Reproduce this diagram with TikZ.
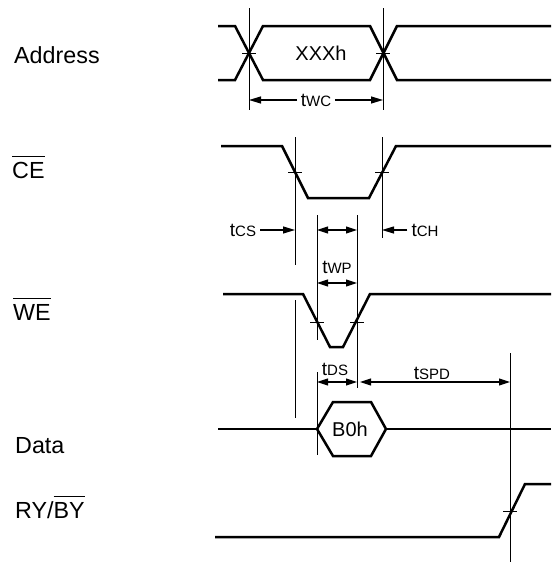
\documentclass[tikz,border=0pt]{standalone}
\usepackage{fontspec}
\setmainfont{Liberation Sans}
\usetikzlibrary{arrows.meta}
\newcommand\tlab[1]{\fontsize{19}{22}\selectfont t\fontsize{15}{18}\selectfont #1}
\newcommand\ovl[1]{\leavevmode\vbox{\hrule height 1pt\kern 5pt\hbox{#1}}}
\begin{document}
\begin{tikzpicture}[x=1pt,y=-1pt,
  sig/.style={line width=2.5pt, line join=miter},
  thinln/.style={line width=1pt},
  dim/.style={line width=1.1pt, -{Triangle[length=12pt,width=7pt]}},
  ddim/.style={line width=1.1pt, {Triangle[length=11pt,width=7pt]}-{Triangle[length=11pt,width=7pt]}},
  lbl/.style={anchor=base west, inner sep=0pt, font=\fontsize{23.3}{27}\selectfont},
  tl/.style={inner sep=3.5pt}]
\useasboundingbox (0,0) rectangle (553,562);

% signal names
\node[lbl] (addr) at (14,63) {Address};
\node[lbl] (ce)   at (12,178) {\ovl{CE}};
\node[lbl] (we)   at (13,320) {\ovl{WE}};
\node[lbl] (data) at (15,453) {Data};
\node[lbl] (ry)   at (15,518) {RY/\ovl{BY}};

% Address
\draw[sig] (218,26) -- (235,26) -- (263,80) -- (370,80) -- (397,26) -- (551,26);
\draw[sig] (218,80) -- (235,80) -- (263,26) -- (370,26) -- (397,80) -- (551,80);
\node[font=\fontsize{20}{22}\selectfont] (xxx) at (321,53) {XXXh};

% CE
\draw[sig] (221,146) -- (282,146) -- (308,198) -- (369,198) -- (396,146) -- (551,146);
% WE
\draw[sig] (223,294) -- (303,294) -- (330,347) -- (343,347) -- (370,294) -- (551,294);
% Data
\draw[sig] (218,429) -- (317,429);
\draw[sig] (317,429) -- (333,402) -- (371,402) -- (386,429) -- (371,456) -- (333,456) -- cycle;
\draw[sig] (386,429) -- (551,429);
\node[font=\fontsize{20}{23}\selectfont] (b0h) at (350,429) {B0h};
% RY/BY
\draw[sig] (215,537) -- (499,537) -- (525,484) -- (551,484);

% timing reference lines
\coordinate (va) at (249,53);
\coordinate (vb) at (383,53);
\coordinate (vcs) at (295,172);
\coordinate (vch) at (382,172);
\coordinate (vw1) at (317,322);
\coordinate (vw2) at (357,322);
\coordinate (vry) at (510,511);

\draw[thinln] (249,8) -- (249,110);
\draw[thinln] (383,8) -- (383,110);
\draw[thinln] (295,137) -- (295,265);
\draw[thinln] (295,300) -- (295,418);
\draw[thinln] (382,137) -- (382,238);
\draw[thinln] (317,215) -- (317,340);
\draw[thinln] (317,372) -- (317,455);
\draw[thinln] (357,215) -- (357,388);
\draw[thinln] (510,353) -- (510,562);

% crossing ticks
\foreach \c in {va,vb,vcs,vch,vw1,vw2,vry}
  \draw[thinln] ([xshift=-7pt]\c) -- ([xshift=7pt]\c);

% dimension labels
\node[tl] (twc) at (316,100) {\tlab{WC}};
\draw[dim] (twc.west) -- (va |- twc.west);
\draw[dim] (twc.east) -- (vb |- twc.east);

\node[tl,inner sep=4pt] (tcs) at (243,230) {\tlab{CS}};
\draw[dim] (tcs.east) -- (vcs |- tcs.east);

\node[tl,inner sep=4pt] (tch) at (425,230) {\tlab{CH}};
\draw[dim] (tch.west) -- (vch |- tch.west);

\coordinate (wp1a) at (317,230);
\coordinate (wp1b) at (357,230);
\draw[ddim] (wp1a) -- (wp1b);
\node[tl] (twp) at (337,267) {\tlab{WP}};
\coordinate (wp2a) at (317,283);
\coordinate (wp2b) at (357,283);
\draw[ddim] (wp2a) -- (wp2b);

\node[tl] (tds) at (335,369) {\tlab{DS}};
\coordinate (dsa) at (317,382);
\coordinate (dsb) at (357,382);
\draw[ddim] (dsa) -- (dsb);

\node[tl] (tspd) at (432,373) {\tlab{SPD}};
\coordinate (spa) at (360,382);
\coordinate (spb) at (510,382);
\draw[ddim] (spa) -- (spb);
\end{tikzpicture}
\end{document}
